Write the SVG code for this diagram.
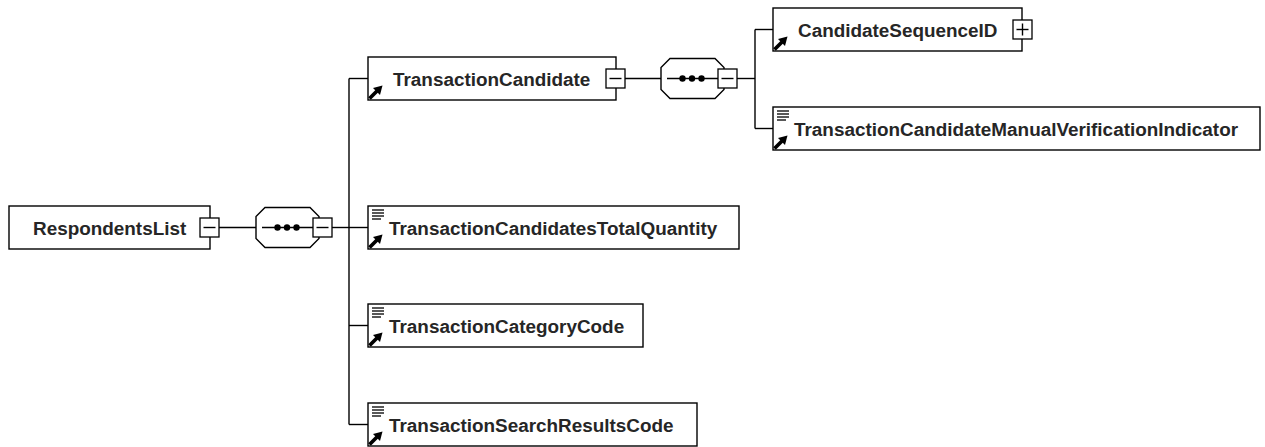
<svg xmlns="http://www.w3.org/2000/svg" width="1265" height="447" viewBox="0 0 1265 447">
<style>
.box{fill:#fff;stroke:#000;stroke-width:1.4}
.lbl{font-family:"Liberation Sans",Arial,sans-serif;font-weight:bold;font-size:18.9px;fill:#262626}
.btn{fill:#fff;stroke:#000;stroke-width:1.3}
.sym{stroke:#000;stroke-width:1.4;fill:none}
.con{stroke:#000;stroke-width:1.4;fill:none}
.oct{fill:#fff;stroke:#000;stroke-width:1.4}
.txl{stroke:#111;stroke-width:1.4}
</style>
<defs>
<g id="refarrow">
<line x1="1.5" y1="-1.5" x2="9" y2="-9" stroke="#000" stroke-width="3.8"/>
<polygon points="14.5,-14.5 5,-12 12,-5" fill="#000"/>
</g>
<g id="txtlines">
<line class="txl" x1="4" y1="4" x2="16" y2="4"/>
<line class="txl" x1="4" y1="7" x2="16" y2="7"/>
<line class="txl" x1="4" y1="10" x2="16" y2="10"/>
<line class="txl" x1="4" y1="13" x2="13" y2="13"/>
</g>
<g id="minus">
<rect class="btn" x="0" y="0" width="19" height="19"/>
<line class="sym" x1="3.5" y1="9.5" x2="15.5" y2="9.5"/>
</g>
<g id="plus">
<rect class="btn" x="0" y="0" width="19" height="19"/>
<line class="sym" x1="3.5" y1="9.5" x2="15.5" y2="9.5"/>
<line class="sym" x1="9.5" y1="3.5" x2="9.5" y2="15.5"/>
</g>
<g id="seq">
<polygon class="oct" points="9,-20 54,-20 63,-11 63,11 54,20 9,20 0,11 0,-11"/>
<line class="con" x1="6" y1="0" x2="57" y2="0"/>
<circle cx="21.5" cy="0" r="3.2" fill="#000"/>
<circle cx="31" cy="0" r="3.2" fill="#000"/>
<circle cx="40.5" cy="0" r="3.2" fill="#000"/>
<use href="#minus" x="57" y="-9.5"/>
</g>
</defs>

<g id="connectors">
<line class="con" x1="219" y1="227.5" x2="256" y2="227.5"/>
<line class="con" x1="332" y1="227.5" x2="349" y2="227.5"/>
<line class="con" x1="349" y1="78.5" x2="349" y2="424.5"/>
<line class="con" x1="349" y1="78.5" x2="368" y2="78.5"/>
<line class="con" x1="349" y1="227.5" x2="368" y2="227.5"/>
<line class="con" x1="349" y1="325.5" x2="368" y2="325.5"/>
<line class="con" x1="349" y1="424.5" x2="368" y2="424.5"/>
<line class="con" x1="625" y1="78.5" x2="661" y2="78.5"/>
<line class="con" x1="737" y1="78.5" x2="755" y2="78.5"/>
<line class="con" x1="755" y1="29.5" x2="755" y2="128.5"/>
<line class="con" x1="755" y1="29.5" x2="773" y2="29.5"/>
<line class="con" x1="755" y1="128.5" x2="773" y2="128.5"/>
</g>

<g id="RespondentsList">
<rect class="box" x="9" y="206" width="201" height="43"/>
<text class="lbl" x="33" y="234.5">RespondentsList</text>
<use href="#minus" x="200" y="218"/>
</g>

<g id="seq1">
<use href="#seq" x="256" y="227.5"/>
</g>

<g id="TransactionCandidate">
<rect class="box" x="368" y="57" width="248" height="43"/>
<use href="#refarrow" x="368" y="100"/>
<text class="lbl" x="393" y="85.5">TransactionCandidate</text>
<use href="#minus" x="606" y="69"/>
</g>

<g id="seq2">
<use href="#seq" x="661" y="78.5"/>
</g>

<g id="CandidateSequenceID">
<rect class="box" x="773" y="8" width="249" height="43"/>
<use href="#refarrow" x="773" y="51"/>
<text class="lbl" x="798" y="36.5">CandidateSequenceID</text>
<use href="#plus" x="1013" y="20"/>
</g>

<g id="TransactionCandidateManualVerificationIndicator">
<rect class="box" x="773" y="107" width="487" height="43"/>
<use href="#txtlines" x="773" y="107"/>
<use href="#refarrow" x="773" y="150"/>
<text class="lbl" x="794" y="135.5">TransactionCandidateManualVerificationIndicator</text>
</g>

<g id="TransactionCandidatesTotalQuantity">
<rect class="box" x="368" y="206" width="371" height="43"/>
<use href="#txtlines" x="368" y="206"/>
<use href="#refarrow" x="368" y="249"/>
<text class="lbl" x="389" y="234.5">TransactionCandidatesTotalQuantity</text>
</g>

<g id="TransactionCategoryCode">
<rect class="box" x="368" y="304" width="275" height="43"/>
<use href="#txtlines" x="368" y="304"/>
<use href="#refarrow" x="368" y="347"/>
<text class="lbl" x="389" y="332.5">TransactionCategoryCode</text>
</g>

<g id="TransactionSearchResultsCode">
<rect class="box" x="368" y="403" width="329" height="43"/>
<use href="#txtlines" x="368" y="403"/>
<use href="#refarrow" x="368" y="446"/>
<text class="lbl" x="389" y="431.5">TransactionSearchResultsCode</text>
</g>
</svg>
